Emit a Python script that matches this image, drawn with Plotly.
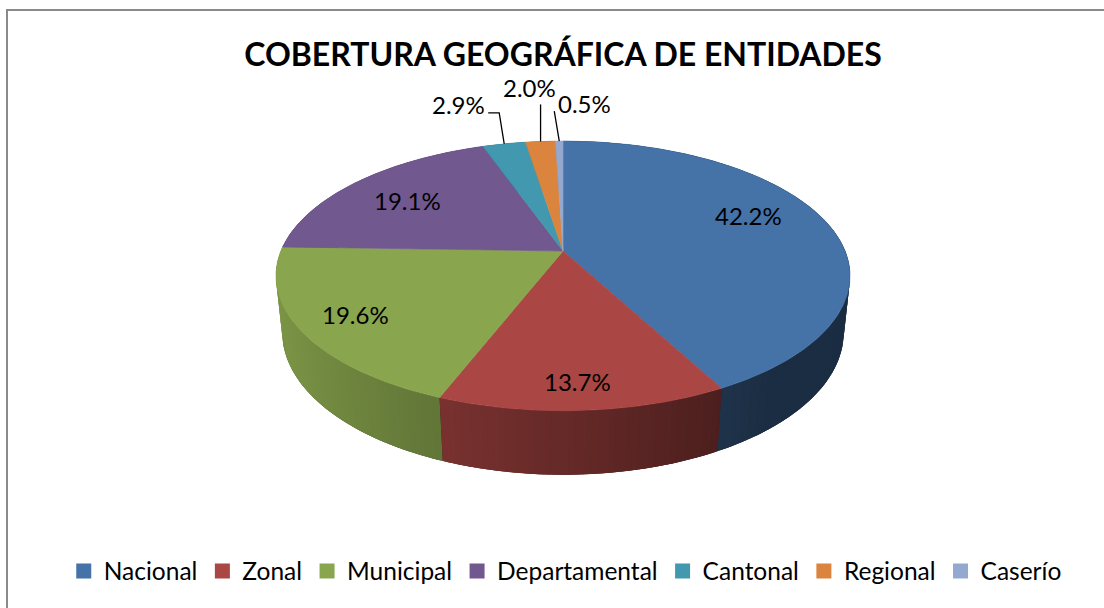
import math
import plotly.graph_objects as go

# ---- data ----
categories = ["Nacional", "Zonal", "Municipal", "Departamental", "Cantonal", "Regional", "Caserío"]
percentages = [42.2, 13.7, 19.6, 19.1, 2.9, 2.0, 0.5]
colors = ["#4572A7", "#AA4643", "#89A54E", "#71588F", "#4198AF", "#DB843D", "#93A9CF"]
title_text = "COBERTURA GEOGRÁFICA DE ENTIDADES"

# ---- 3D projection style parameters ----
W, H = 1104, 608
CX, CY = 563, 251          # screen position of pie centre
PHI = math.radians(27.5)   # elevation
DIST = 4.81                # camera distance (radius units)
FOC = 1357                 # focal length (px)
DEPTH = 0.228              # thickness (radius units)
FONT = "Lato, 'Open Sans', sans-serif"


def proj(a_deg, r=1.0, z=0.0):
    a = math.radians(a_deg)
    X = r * math.sin(a)
    Y = r * math.cos(a)
    d = DIST + Y * math.cos(PHI) - z * math.sin(PHI)
    sx = FOC * X / d
    sy = FOC * (Y * math.sin(PHI) + z * math.cos(PHI)) / d
    return CX + sx, CY - sy


def shade(hexcol, f):
    h = hexcol.lstrip("#")
    r, g, b = (int(h[i:i + 2], 16) for i in (0, 2, 4))
    return "rgb(%d,%d,%d)" % (min(255, r * f), min(255, g * f), min(255, b * f))


def side_factor(a_deg):
    Xn = math.sin(math.radians(a_deg))
    return max(0.4, min(0.92, 0.6 - 0.32 * Xn))


total = sum(percentages)
starts, ends = [], []
acc = 0.0
for v in percentages:
    starts.append(acc / total * 360.0)
    acc += v
    ends.append(acc / total * 360.0)

fig = go.Figure()

# ---- dark underlay for the visible side wall ----
ang = [80 + k for k in range(201)]
under = [proj(a) for a in ang] + [proj(a, z=-DEPTH) for a in reversed(ang)]
under.append(under[0])
fig.add_trace(go.Scatter(x=[q[0] for q in under], y=[q[1] for q in under], mode="lines",
                         fill="toself", fillcolor="rgb(40,40,40)", line=dict(width=0),
                         showlegend=False, hoverinfo="skip"))

# ---- side walls (painter's order: far first) ----
strips = []
STEP = 1.0
OVER = 0.45
for i, (a0, a1) in enumerate(zip(starts, ends)):
    n = max(1, int(math.ceil((a1 - a0) / STEP)))
    for k in range(n):
        s0 = a0 + (a1 - a0) * k / n
        s1 = a0 + (a1 - a0) * (k + 1) / n
        mid = (s0 + s1) / 2
        e0 = max(a0, s0 - OVER)
        e1 = min(a1, s1 + OVER)
        strips.append((math.cos(math.radians(mid)), i, e0, e1, mid))
strips.sort(key=lambda t: -t[0])
for _, i, s0, s1, mid in strips:
    p = [proj(s0), proj(s1), proj(s1, z=-DEPTH), proj(s0, z=-DEPTH), proj(s0)]
    c = shade(colors[i], side_factor(mid))
    fig.add_trace(go.Scatter(x=[q[0] for q in p], y=[q[1] for q in p], mode="lines",
                             fill="toself", fillcolor=c, line=dict(width=0),
                             showlegend=False, hoverinfo="skip"))

# ---- top faces ----
for i, (a0, a1) in enumerate(zip(starts, ends)):
    n = max(2, int(math.ceil((a1 - a0) / 0.5)))
    pts = [proj(0, r=0.0)] + [proj(a0 + (a1 - a0) * k / n) for k in range(n + 1)] + [proj(0, r=0.0)]
    fig.add_trace(go.Scatter(x=[q[0] for q in pts], y=[q[1] for q in pts], mode="lines",
                             fill="toself", fillcolor=colors[i], line=dict(color=colors[i], width=0.6),
                             showlegend=False, hoverinfo="skip", name=categories[i]))

# ---- legend entries ----
for cat, col in zip(categories, colors):
    fig.add_trace(go.Scatter(x=[None], y=[None], mode="markers", name=cat,
                             marker=dict(symbol="square", size=15, color=col)))

# ---- data labels ----
LABEL_R = 0.76
inside_nudge = {0: (-16, -12), 1: (0, 16), 2: (-14, 4), 3: (4, 3)}   # px
small_style = {  # label offset and leader elbow offsets (px) relative to rim point
    4: dict(label=(-46, -39), leader=[(-5, -31), (-16, -31)]),
    5: dict(label=(-11, -54), leader=[(0, -37)]),
    6: dict(label=(25, -38), leader=[(-5, -30)]),
}
LBL_FONT = dict(family=FONT, size=24, color="black")
annotations = []
for i, (a0, a1) in enumerate(zip(starts, ends)):
    mid = (a0 + a1) / 2
    txt = "%.1f%%" % percentages[i]
    if i in small_style:
        ex, ey = proj(mid)
        st = small_style[i]
        lx = [ex] + [ex + dx for dx, dy in st["leader"]]
        ly = [ey] + [ey + dy for dx, dy in st["leader"]]
        fig.add_trace(go.Scatter(x=lx, y=ly, mode="lines", line=dict(color="black", width=1.3),
                                 showlegend=False, hoverinfo="skip"))
        annotations.append(dict(x=ex + st["label"][0], y=ey + st["label"][1], xref="x", yref="y",
                                text=txt, showarrow=False, font=LBL_FONT))
    else:
        lx, ly = proj(mid, r=LABEL_R)
        dx, dy = inside_nudge.get(i, (0, 0))
        annotations.append(dict(x=lx + dx, y=ly + dy, xref="x", yref="y", text=txt,
                                showarrow=False, font=LBL_FONT))

fig.update_layout(
    width=W, height=H,
    margin=dict(l=0, r=0, t=0, b=0),
    paper_bgcolor="white", plot_bgcolor="white",
    xaxis=dict(range=[0, W], visible=False, fixedrange=True),
    yaxis=dict(range=[H, 0], visible=False, fixedrange=True),
    title=dict(text="<b>%s</b>" % title_text, x=0.51, xanchor="center", y=1 - 55 / H, yanchor="middle",
               yref="container", font=dict(family=FONT, size=32, color="black")),
    legend=dict(orientation="h", x=0.512, xanchor="center", y=1 - 571 / H, yanchor="middle",
                font=dict(family=FONT, size=24.5, color="black"), itemwidth=30, bgcolor="rgba(0,0,0,0)"),
    annotations=annotations,
    shapes=[dict(type="rect", xref="x", yref="y", x0=7, y0=10, x1=W + 20, y1=H + 20,
                 line=dict(color="#8a8a8a", width=2), layer="below")],
    showlegend=True,
)

fig.write_html("out.html")
